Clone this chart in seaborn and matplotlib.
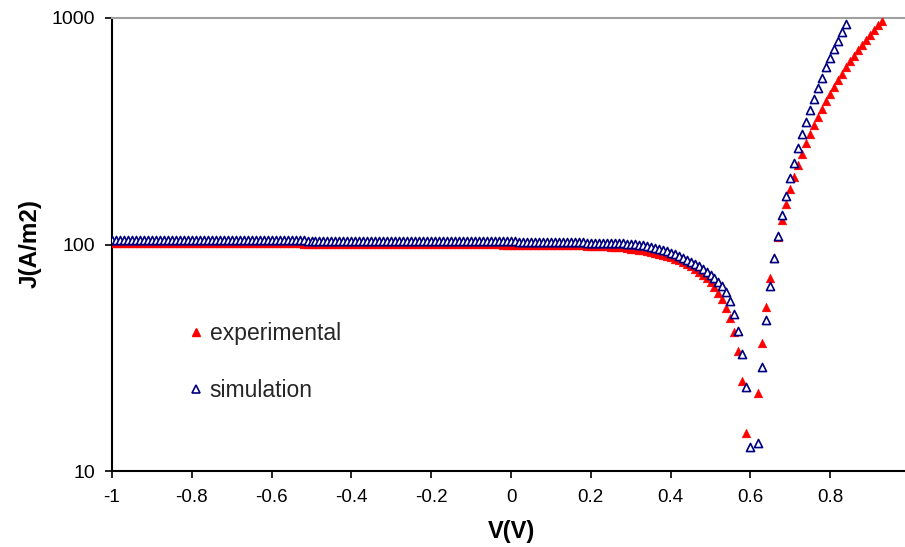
import numpy as np
import pandas as pd
import matplotlib
matplotlib.use("Agg")
import matplotlib.pyplot as plt
import seaborn as sns
from matplotlib.lines import Line2D

nan = np.nan

# Voltage grids (V)
v_exp = [round(-1.00 + 0.01 * i, 2) for i in range(194)]   # -1.00 .. 0.93
v_sim = [round(-1.00 + 0.01 * i, 2) for i in range(185)]   # -1.00 .. 0.84

# Experimental |J| (A/m2)
j_exp = [
    102.0, 102.0, 102.0, 101.9, 101.9, 101.9, 101.9, 101.9, 101.8, 101.8,
    101.8, 101.8, 101.8, 101.7, 101.7, 101.7, 101.7, 101.7, 101.6, 101.6,
    101.6, 101.6, 101.6, 101.5, 101.5, 101.5, 101.5, 101.5, 101.4, 101.4,
    101.4, 101.4, 101.4, 101.3, 101.3, 101.3, 101.3, 101.3, 101.2, 101.2,
    101.2, 101.2, 101.2, 101.1, 101.1, 101.1, 101.1, 101.1, 101.0, 101.0,
    101.0, 101.0, 101.0, 100.9, 100.9, 100.9, 100.9, 100.9, 100.8, 100.8,
    100.8, 100.8, 100.8, 100.7, 100.7, 100.7, 100.7, 100.7, 100.6, 100.6,
    100.6, 100.6, 100.6, 100.5, 100.5, 100.5, 100.5, 100.5, 100.4, 100.4,
    100.4, 100.4, 100.4, 100.3, 100.3, 100.3, 100.3, 100.3, 100.2, 100.2,
    100.2, 100.2, 100.2, 100.1, 100.1, 100.1, 100.1, 100.1, 100.0, 100.0,
    100.0, 100.0, 99.9, 99.9, 99.9, 99.8, 99.8, 99.8, 99.7, 99.7,
    99.6, 99.6, 99.5, 99.5, 99.4, 99.3, 99.2, 99.1, 99.0, 98.9,
    98.8, 98.7, 98.5, 98.3, 98.1, 97.9, 97.6, 97.3, 97.0, 96.6,
    96.0, 95.5, 94.9, 94.3, 93.6, 92.8, 92.0, 91.1, 90.1, 89.0,
    87.8, 86.5, 85.1, 83.6, 81.9, 80.1, 78.1, 75.9, 73.5, 70.9,
    68.0, 64.8, 61.2, 57.2, 52.6, 47.3, 41.2, 34.0, 25.0, 14.7,
    nan, nan, 22.0, 36.8, 53.0, 71.0, 87.0, 108.0, 128.0, 151.0,
    175.0, 198.0, 224.0, 251.0, 280.0, 307.0, 336.0, 366.0, 398.0, 430.0,
    463.0, 497.0, 532.0, 568.0, 605.0, 643.0, 682.0, 722.0, 762.0, 803.0,
    845.0, 887.0, 930.0, 972.0,
]

# Simulated |J| (A/m2)
j_sim = [
    105.2, 105.2, 105.2, 105.1, 105.1, 105.1, 105.1, 105.0, 105.0, 105.0,
    105.0, 105.0, 104.9, 104.9, 104.9, 104.9, 104.8, 104.8, 104.8, 104.8,
    104.8, 104.7, 104.7, 104.7, 104.7, 104.6, 104.6, 104.6, 104.6, 104.6,
    104.5, 104.5, 104.5, 104.5, 104.4, 104.4, 104.4, 104.4, 104.4, 104.3,
    104.3, 104.3, 104.3, 104.3, 104.2, 104.2, 104.2, 104.2, 104.2, 104.1,
    104.1, 104.1, 104.1, 104.1, 104.0, 104.0, 104.0, 104.0, 104.0, 103.9,
    103.9, 103.9, 103.9, 103.9, 103.8, 103.8, 103.8, 103.8, 103.8, 103.7,
    103.7, 103.7, 103.7, 103.7, 103.6, 103.6, 103.6, 103.6, 103.6, 103.5,
    103.5, 103.5, 103.5, 103.5, 103.4, 103.4, 103.4, 103.4, 103.4, 103.3,
    103.3, 103.3, 103.3, 103.3, 103.2, 103.2, 103.2, 103.2, 103.2, 103.1,
    103.1, 103.1, 103.0, 103.0, 103.0, 102.9, 102.9, 102.9, 102.8, 102.8,
    102.7, 102.7, 102.6, 102.6, 102.5, 102.4, 102.3, 102.2, 102.1, 102.0,
    102.0, 101.9, 101.8, 101.7, 101.6, 101.5, 101.4, 101.3, 101.1, 100.9,
    100.5, 100.1, 99.6, 99.0, 98.3, 97.5, 96.6, 95.6, 94.5, 93.3,
    92.0, 90.6, 89.1, 87.5, 85.8, 84.0, 82.1, 80.1, 78.0, 75.8,
    73.5, 71.0, 68.5, 65.5, 61.5, 56.5, 49.5, 41.5, 33.0, 23.4,
    12.7, nan, 13.3, 28.8, 46.4, 65.6, 86.9, 109.0, 135.0, 164.0,
    196.0, 230.0, 266.0, 307.0, 349.0, 393.0, 437.0, 490.0, 545.0, 605.0,
    668.0, 730.0, 794.0, 865.0, 940.0,
]

x_ticks = [-1, -0.8, -0.6, -0.4, -0.2, 0, 0.2, 0.4, 0.6, 0.8, 1]
x_tick_labels = ["-1", "-0.8", "-0.6", "-0.4", "-0.2", "0", "0.2", "0.4", "0.6", "0.8", "1"]
y_ticks = [10, 100, 1000]
y_tick_labels = ["10", "100", "1000"]
series_names = ["experimental", "simulation"]

df_exp = pd.DataFrame({"V": v_exp, "J": j_exp}).dropna()
df_sim = pd.DataFrame({"V": v_sim, "J": j_sim}).dropna()

sns.set_theme(style="white")
plt.rcParams["font.family"] = ["Liberation Sans", "DejaVu Sans"]

W, H = 905, 547
fig = plt.figure(figsize=(W / 100, H / 100), dpi=100)
ax = fig.add_axes([112 / W, (H - 471) / H, (910 - 112) / W, (471 - 18) / H])

RED = "#FF0000"
NAVY = "#000080"

sns.scatterplot(data=df_exp, x="V", y="J", ax=ax, marker="^", s=40,
                color=RED, edgecolor=RED, linewidth=0.3, zorder=3)
sns.scatterplot(data=df_sim, x="V", y="J", ax=ax, marker="^", s=34,
                color=NAVY, zorder=4)
coll = ax.collections[-1]
coll.set_facecolor("white")
coll.set_edgecolor(NAVY)
coll.set_linewidth(1.2)

ax.set_yscale("log")
ax.set_xlim(-1, 1)
ax.set_ylim(10, 1000)
ax.minorticks_off()
ax.set_yticks(y_ticks)
ax.set_yticklabels(y_tick_labels, fontsize=14, color="black")
ax.set_xticks(x_ticks)
ax.set_xticklabels(x_tick_labels, fontsize=13.5, color="black")
ax.minorticks_off()

ax.tick_params(axis="x", direction="out", length=5, width=1.2, color="black", pad=8, bottom=True)
ax.tick_params(axis="y", direction="out", length=5, width=1.2, color="black", pad=7, left=True)

for side in ["left", "bottom"]:
    ax.spines[side].set_color("black")
    ax.spines[side].set_linewidth(1.5)
ax.spines["right"].set_visible(False)
ax.spines["top"].set_color("#A0A0A0")
ax.spines["top"].set_linewidth(1.5)
ax.grid(False)

ax.set_xlabel("V(V)", fontsize=17, fontweight="bold", color="black")
ax.set_ylabel("J(A/m2)", fontsize=17.5, fontweight="bold", color="black")
ax.xaxis.set_label_coords(0.5, (471 - 520) / 453)
ax.yaxis.set_label_coords((42 - 112) / 798, (471 - 243) / 453)

handles = [
    Line2D([], [], linestyle="", marker="^", markersize=6, color=RED, markeredgecolor=RED),
    Line2D([], [], linestyle="", marker="^", markersize=5.5, markerfacecolor="white",
           markeredgecolor=NAVY, markeredgewidth=1.2),
]
leg = ax.legend(handles, series_names, loc="center left",
                bbox_to_anchor=((189 - 112) / 798, (471 - 362) / 453),
                frameon=False, fontsize=16.5, handlelength=0.6, handletextpad=0.3,
                labelspacing=1.45, borderpad=0, borderaxespad=0)

fig.savefig("out.png", dpi=100)
